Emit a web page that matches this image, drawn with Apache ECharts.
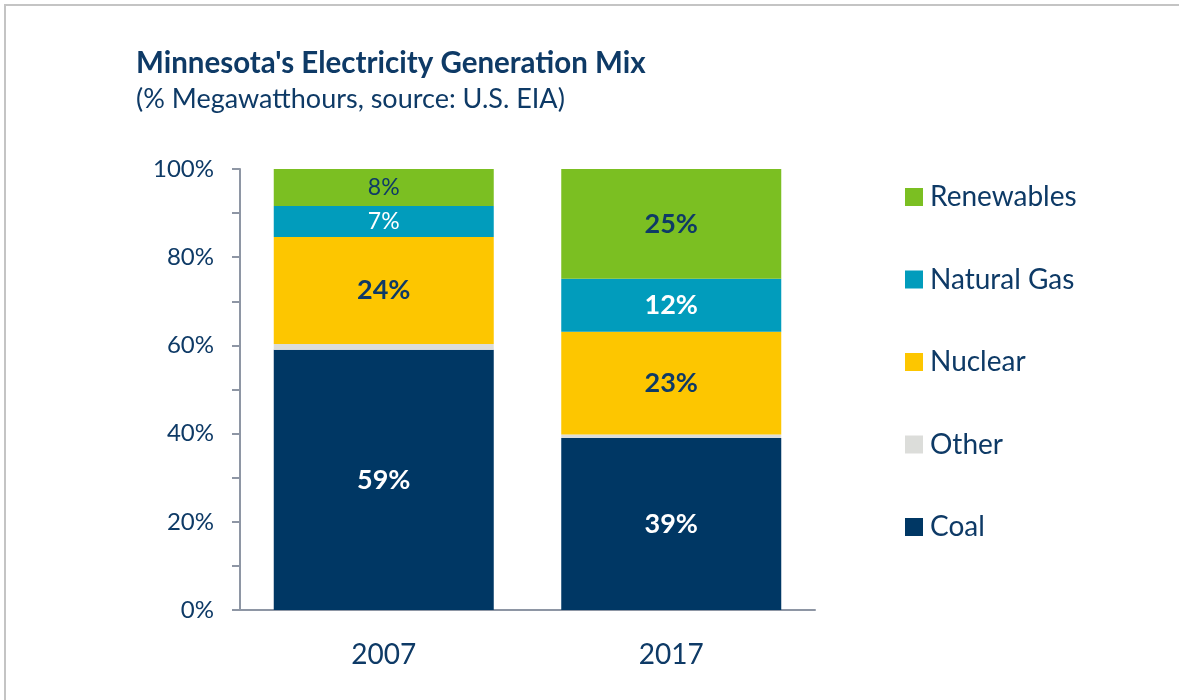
<!DOCTYPE html>
<html>
<head>
<meta charset="utf-8">
<script src="https://cdn.jsdelivr.net/npm/echarts@6/dist/echarts.min.js"></script>
<style>
  html, body { margin: 0; padding: 0; background: #fff; }
  #main { width: 1179px; height: 700px; }
</style>
</head>
<body>
<div id="main"></div>
<script>
// data (% of MWh)
const years = ['2007', '2017'];
const coal = [59.0, 39.0];
const other = [1.3, 0.8];
const nuclear = [24.3, 23.3];
const naturalGas = [7.0, 12.0];
const renewables = [8.4, 24.9];
const yTicks = [0, 20, 40, 60, 80, 100];

const navy = '#0E3A66';
const font = 'Lato';

const chart = echarts.init(document.getElementById('main'), null, { renderer: 'canvas' });

// small segments get a regular label, big ones bold
function seg(name, values, color, labelColor, hideLabel) {
  return {
    name: name,
    type: 'bar',
    stack: 'mix',
    barWidth: 220,
    itemStyle: { color: color },
    data: values.map(function (v) {
      return {
        value: v,
        label: {
          show: !hideLabel,
          fontWeight: v < 10 ? 'normal' : 'bold',
          fontSize: v < 10 ? 23 : 27
        }
      };
    }),
    label: {
      position: 'inside',
      color: labelColor,
      fontFamily: font,
      formatter: function (p) { return Math.round(p.value) + '%'; }
    }
  };
}

chart.setOption({
  animation: false,
  title: {
    text: "Minnesota's Electricity Generation Mix",
    subtext: '(% Megawatthours, source: U.S. EIA)',
    left: 131,
    top: 43,
    itemGap: 8,
    textStyle: { fontFamily: font, fontSize: 29.5, fontWeight: 'bold', color: navy },
    subtextStyle: { fontFamily: font, fontSize: 27, color: navy }
  },
  legend: {
    orient: 'vertical',
    left: 900,
    top: 178,
    itemWidth: 18,
    itemHeight: 18,
    itemGap: 54.5,
    icon: 'rect',
    textStyle: { fontFamily: font, fontSize: 28, color: navy, lineHeight: 26, padding: [0, 0, 0, 2] },
    data: ['Renewables', 'Natural Gas', 'Nuclear', 'Other', 'Coal']
  },
  grid: { left: 240, right: 364, top: 169, bottom: 90, containLabel: false },
  xAxis: {
    type: 'category',
    data: years,
    axisLine: { lineStyle: { color: '#8E96A4', width: 2 } },
    axisTick: { show: false },
    axisLabel: { fontFamily: font, fontSize: 28, color: navy, margin: 31 }
  },
  yAxis: {
    type: 'value',
    min: 0,
    max: 100,
    interval: 10,
    axisLine: { show: true, lineStyle: { color: '#8E96A4', width: 2 } },
    axisTick: { show: true, length: 8, lineStyle: { color: '#8E96A4', width: 2 } },
    splitLine: { show: false },
    axisLabel: {
      fontFamily: font,
      fontSize: 24,
      color: navy,
      margin: 26,
      formatter: function (v) { return yTicks.indexOf(v) >= 0 ? v + '%' : ''; }
    }
  },
  series: [
    seg('Coal', coal, '#003764', '#ffffff'),
    seg('Other', other, '#DCDDDA', navy, true),
    seg('Nuclear', nuclear, '#FDC600', navy),
    seg('Natural Gas', naturalGas, '#019CBC', '#ffffff'),
    seg('Renewables', renewables, '#7BBF22', navy)
  ],
  graphic: [{
    type: 'rect',
    shape: { x: 5, y: 5, width: 1300, height: 800 },
    style: { fill: 'none', stroke: '#C4C4C4', lineWidth: 2 },
    silent: true
  }]
});
</script>
</body>
</html>
